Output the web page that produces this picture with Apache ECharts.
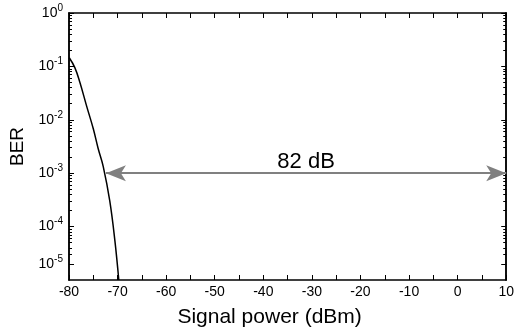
<!DOCTYPE html>
<html>
<head>
<meta charset="utf-8">
<script src="https://cdn.jsdelivr.net/npm/echarts@6/dist/echarts.min.js"></script>
<style>
  html, body { margin: 0; padding: 0; background: #fff; }
  #chart { width: 517px; height: 333px; }
</style>
</head>
<body>
<div id="chart"></div>
<script>
// BER curve
const powerDbm = [-79.95, -78.8, -77.75, -76.4, -75.0, -74.0, -72.95, -71.6, -70.55, -69.75]
const berValues = [0.145, 0.095, 0.05, 0.0184, 0.0068, 0.0029, 0.00133, 3.0e-4, 5.4e-5, 1e-5]

// y ticks (BER position -> exponent shown)
const yTickPos = [1, 0.1, 0.01, 1e-3, 1e-4, 2e-5]
const yTickExp = ['0', '-1', '-2', '-3', '-4', '-5']

// x ticks
const xTickLabels = [-80, -70, -60, -50, -40, -30, -20, -10, 0, 10]

// range arrow
const arrowFrom = -72.4
const arrowTo = 10
const arrowBer = 1e-3
const arrowText = '82 dB'

const lg = (v) => Math.log10(v)
const yMajor = yTickPos.map(lg)
const yMinor = []
for (let n = -5; n < 0; n++) {
  for (let k = 2; k <= 9; k++) yMinor.push(Math.log10(k) + n)
}

const font = 'Liberation Sans, Arial, sans-serif'

const yLabel = function (value) {
  const i = yMajor.findIndex((m) => Math.abs(m - value) < 1e-6)
  if (i < 0) return ''
  return '{b|10}{s|' + yTickExp[i] + '}'
}

function yAx(pos, ticks, len, withLabel) {
  return {
    type: 'value',
    position: pos,
    min: -5,
    max: 0,
    axisLine: { show: true, onZero: false, lineStyle: { color: '#000', width: 1.5 } },
    axisTick: { show: true, inside: true, length: len, customValues: ticks, lineStyle: { color: '#000', width: 1 } },
    axisLabel: withLabel ? {
      show: true,
      customValues: yMajor,
      formatter: yLabel,
      margin: 6,
      rich: {
        b: { fontSize: 14, fontFamily: font, color: '#000' },
        s: { fontSize: 10, fontFamily: font, color: '#000', padding: [0, 0, 10, 0] }
      }
    } : { show: false },
    splitLine: { show: false }
  }
}

function xAx(pos, withLabel) {
  return {
    type: 'value',
    position: pos,
    min: -80,
    max: 10,
    interval: 5,
    axisLine: { show: true, onZero: false, lineStyle: { color: '#000', width: 1.5 } },
    axisTick: { show: true, inside: true, length: 5, lineStyle: { color: '#000', width: 1 } },
    axisLabel: withLabel ? {
      show: true,
      customValues: xTickLabels,
      fontSize: 14,
      fontFamily: font,
      color: '#000',
      margin: 5
    } : { show: false },
    splitLine: { show: false },
    name: withLabel ? 'Signal power (dBm)' : '',
    nameLocation: 'middle',
    nameGap: 27,
    nameTextStyle: { fontSize: 21, fontFamily: font, color: '#000', padding: [0, 36, 0, 0] }
  }
}

const yAxes = [
  yAx('left', yMajor, 5, true),
  yAx('left', yMinor, 3, false),
  yAx('right', yMajor, 5, false),
  yAx('right', yMinor, 3, false)
]
yAxes[0].name = 'BER'
yAxes[0].nameLocation = 'middle'
yAxes[0].nameGap = 40
yAxes[0].nameTextStyle = { fontSize: 19, fontFamily: font, color: '#000' }

const option = {
  animation: false,
  backgroundColor: '#fff',
  grid: { left: 69, right: 10, top: 13, bottom: 50, containLabel: false },
  xAxis: [xAx('bottom', true), xAx('top', false)],
  yAxis: yAxes,
  series: [
    {
      type: 'line',
      xAxisIndex: 0,
      yAxisIndex: 0,
      smooth: 0.4,
      showSymbol: false,
      lineStyle: { color: '#000', width: 1.5 },
      data: powerDbm.map((x, i) => [x, lg(berValues[i])]),
      markLine: {
        silent: true,
        symbol: ['arrow', 'arrow'],
        symbolSize: [12, 20],
        lineStyle: { color: '#808080', width: 2, type: 'solid' },
        label: {
          show: true,
          position: 'middle',
          formatter: arrowText,
          fontSize: 22,
          fontFamily: font,
          color: '#000',
          distance: 0
        },
        data: [[
          { coord: [arrowFrom, lg(arrowBer)] },
          { coord: [arrowTo, lg(arrowBer)] }
        ]]
      }
    }
  ]
}

const chart = echarts.init(document.getElementById('chart'), null, { renderer: 'canvas' })
chart.setOption(option)
</script>
</body>
</html>
